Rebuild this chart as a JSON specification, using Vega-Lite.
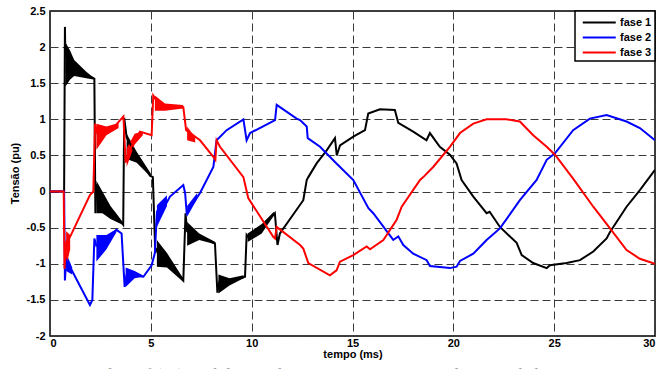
{
  "$schema": "https://vega.github.io/schema/vega-lite/v6.json",
  "width": 605,
  "height": 325,
  "autosize": "none",
  "padding": {"left": 50, "top": 11, "right": 11, "bottom": 33},
  "background": "white",
  "title": {
    "text": "Figura 3: Tensões Vf (pu) medidas no elo com as cargas a 100% da capacidade",
    "orient": "bottom",
    "anchor": "start",
    "dx": 0,
    "offset": 8,
    "font": "Liberation Serif",
    "fontSize": 17,
    "fontWeight": "normal",
    "color": "#9a9a9a"
  },
  "config": {
    "view": {"stroke": "#000000", "strokeWidth": 1.5},
    "axis": {
      "labelFont": "Liberation Sans",
      "labelFontWeight": "bold",
      "labelFontSize": 11,
      "labelColor": "#000000",
      "labelOverlap": false,
      "titleFont": "Liberation Sans",
      "titleFontWeight": "bold",
      "titleFontSize": 11,
      "titleColor": "#000000",
      "domain": false,
      "ticks": false,
      "grid": true,
      "gridColor": "#3a3a3a",
      "gridDash": [8, 4],
      "gridWidth": 1
    },
    "legend": {
      "labelFont": "Liberation Sans",
      "labelFontWeight": "bold",
      "labelFontSize": 11,
      "labelColor": "#000000",
      "titleFont": "Liberation Sans",
      "titleFontSize": 11
    }
  },
  "datasets": {
    "curves": [
      {"fase": "fase 1", "t": 0, "v": 0}, {"fase": "fase 1", "t": 0.7, "v": 0}, {"fase": "fase 1", "t": 0.74, "v": 2.28},
      {"fase": "fase 1", "t": 0.76, "v": 1.9}, {"fase": "fase 1", "t": 1.2, "v": 1.72}, {"fase": "fase 1", "t": 1.8, "v": 1.62},
      {"fase": "fase 1", "t": 2.15, "v": 1.57}, {"fase": "fase 1", "t": 2.2, "v": 1.56}, {"fase": "fase 1", "t": 2.25, "v": -0.3},
      {"fase": "fase 1", "t": 2.3, "v": 0.1}, {"fase": "fase 1", "t": 2.7, "v": -0.15}, {"fase": "fase 1", "t": 3.2, "v": -0.3},
      {"fase": "fase 1", "t": 3.63, "v": -0.46}, {"fase": "fase 1", "t": 3.68, "v": 1.02}, {"fase": "fase 1", "t": 3.8, "v": 0.75},
      {"fase": "fase 1", "t": 4.3, "v": 0.5}, {"fase": "fase 1", "t": 4.96, "v": 0.22}, {"fase": "fase 1", "t": 5.1, "v": 0.2},
      {"fase": "fase 1", "t": 5.22, "v": -0.85}, {"fase": "fase 1", "t": 5.3, "v": -0.8}, {"fase": "fase 1", "t": 5.8, "v": -0.95},
      {"fase": "fase 1", "t": 6.3, "v": -1.12}, {"fase": "fase 1", "t": 6.61, "v": -1.23}, {"fase": "fase 1", "t": 6.72, "v": -0.3},
      {"fase": "fase 1", "t": 6.8, "v": -0.55}, {"fase": "fase 1", "t": 7.4, "v": -0.62}, {"fase": "fase 1", "t": 8.18, "v": -0.72},
      {"fase": "fase 1", "t": 8.3, "v": -1.4}, {"fase": "fase 1", "t": 8.4, "v": -1.25}, {"fase": "fase 1", "t": 8.9, "v": -1.25},
      {"fase": "fase 1", "t": 9.67, "v": -1.18}, {"fase": "fase 1", "t": 9.75, "v": -0.6}, {"fase": "fase 1", "t": 9.9, "v": -0.65},
      {"fase": "fase 1", "t": 10.5, "v": -0.5}, {"fase": "fase 1", "t": 11.15, "v": -0.3}, {"fase": "fase 1", "t": 11.28, "v": -0.74},
      {"fase": "fase 1", "t": 11.4, "v": -0.58}, {"fase": "fase 1", "t": 12.56, "v": -0.12}, {"fase": "fase 1", "t": 12.73, "v": 0.16},
      {"fase": "fase 1", "t": 12.81, "v": 0.2}, {"fase": "fase 1", "t": 13.22, "v": 0.39}, {"fase": "fase 1", "t": 13.72, "v": 0.57},
      {"fase": "fase 1", "t": 14.13, "v": 0.74}, {"fase": "fase 1", "t": 14.22, "v": 0.5}, {"fase": "fase 1", "t": 14.38, "v": 0.64},
      {"fase": "fase 1", "t": 15.04, "v": 0.76}, {"fase": "fase 1", "t": 15.62, "v": 0.85}, {"fase": "fase 1", "t": 15.78, "v": 1.08},
      {"fase": "fase 1", "t": 16.36, "v": 1.14}, {"fase": "fase 1", "t": 17.1, "v": 1.13}, {"fase": "fase 1", "t": 17.27, "v": 0.95},
      {"fase": "fase 1", "t": 18.01, "v": 0.83}, {"fase": "fase 1", "t": 18.67, "v": 0.71}, {"fase": "fase 1", "t": 18.84, "v": 0.81},
      {"fase": "fase 1", "t": 19.33, "v": 0.62}, {"fase": "fase 1", "t": 19.83, "v": 0.51}, {"fase": "fase 1", "t": 20.16, "v": 0.39},
      {"fase": "fase 1", "t": 20.41, "v": 0.16}, {"fase": "fase 1", "t": 20.99, "v": -0.07}, {"fase": "fase 1", "t": 21.65, "v": -0.3},
      {"fase": "fase 1", "t": 21.8, "v": -0.28}, {"fase": "fase 1", "t": 22.31, "v": -0.49}, {"fase": "fase 1", "t": 23.14, "v": -0.71},
      {"fase": "fase 1", "t": 23.39, "v": -0.88}, {"fase": "fase 1", "t": 23.96, "v": -0.99}, {"fase": "fase 1", "t": 24.63, "v": -1.06},
      {"fase": "fase 1", "t": 24.79, "v": -1.02}, {"fase": "fase 1", "t": 25.62, "v": -0.99}, {"fase": "fase 1", "t": 26.28, "v": -0.95},
      {"fase": "fase 1", "t": 26.94, "v": -0.83}, {"fase": "fase 1", "t": 27.6, "v": -0.65}, {"fase": "fase 1", "t": 27.77, "v": -0.56},
      {"fase": "fase 1", "t": 28.59, "v": -0.21}, {"fase": "fase 1", "t": 29.25, "v": 0.02}, {"fase": "fase 1", "t": 30, "v": 0.3},

      {"fase": "fase 2", "t": 0, "v": 0}, {"fase": "fase 2", "t": 0.7, "v": 0}, {"fase": "fase 2", "t": 0.74, "v": -1.23},
      {"fase": "fase 2", "t": 0.8, "v": -0.95}, {"fase": "fase 2", "t": 1.1, "v": -1.1}, {"fase": "fase 2", "t": 1.98, "v": -1.57},
      {"fase": "fase 2", "t": 2.1, "v": -1.5}, {"fase": "fase 2", "t": 2.2, "v": -0.65}, {"fase": "fase 2", "t": 2.3, "v": -0.75},
      {"fase": "fase 2", "t": 2.8, "v": -0.65}, {"fase": "fase 2", "t": 3.3, "v": -0.53}, {"fase": "fase 2", "t": 3.55, "v": -0.58},
      {"fase": "fase 2", "t": 3.7, "v": -1.32}, {"fase": "fase 2", "t": 3.8, "v": -1.15}, {"fase": "fase 2", "t": 4.63, "v": -1.18},
      {"fase": "fase 2", "t": 5.04, "v": -1.02}, {"fase": "fase 2", "t": 5.2, "v": -0.85}, {"fase": "fase 2", "t": 5.3, "v": -0.3},
      {"fase": "fase 2", "t": 5.4, "v": -0.35}, {"fase": "fase 2", "t": 5.95, "v": -0.07}, {"fase": "fase 2", "t": 6.61, "v": 0.09},
      {"fase": "fase 2", "t": 6.7, "v": -0.02}, {"fase": "fase 2", "t": 6.78, "v": -0.3}, {"fase": "fase 2", "t": 7.44, "v": -0.02},
      {"fase": "fase 2", "t": 8.1, "v": 0.34}, {"fase": "fase 2", "t": 8.26, "v": 0.71}, {"fase": "fase 2", "t": 8.76, "v": 0.85},
      {"fase": "fase 2", "t": 9.59, "v": 1.0}, {"fase": "fase 2", "t": 9.75, "v": 0.71}, {"fase": "fase 2", "t": 9.92, "v": 0.81},
      {"fase": "fase 2", "t": 11.16, "v": 0.99}, {"fase": "fase 2", "t": 11.24, "v": 1.2}, {"fase": "fase 2", "t": 12.23, "v": 1.01},
      {"fase": "fase 2", "t": 12.4, "v": 0.99}, {"fase": "fase 2", "t": 12.73, "v": 0.9}, {"fase": "fase 2", "t": 12.78, "v": 0.74},
      {"fase": "fase 2", "t": 13.39, "v": 0.62}, {"fase": "fase 2", "t": 14.13, "v": 0.41}, {"fase": "fase 2", "t": 15.04, "v": 0.16},
      {"fase": "fase 2", "t": 15.79, "v": -0.23}, {"fase": "fase 2", "t": 16.03, "v": -0.3}, {"fase": "fase 2", "t": 17.02, "v": -0.67},
      {"fase": "fase 2", "t": 17.27, "v": -0.62}, {"fase": "fase 2", "t": 17.52, "v": -0.74}, {"fase": "fase 2", "t": 18.01, "v": -0.86},
      {"fase": "fase 2", "t": 18.68, "v": -0.95}, {"fase": "fase 2", "t": 18.84, "v": -1.03}, {"fase": "fase 2", "t": 19.83, "v": -1.06},
      {"fase": "fase 2", "t": 20.16, "v": -1.04}, {"fase": "fase 2", "t": 20.33, "v": -0.96}, {"fase": "fase 2", "t": 20.99, "v": -0.86},
      {"fase": "fase 2", "t": 21.65, "v": -0.67}, {"fase": "fase 2", "t": 22.31, "v": -0.51}, {"fase": "fase 2", "t": 23.3, "v": -0.12},
      {"fase": "fase 2", "t": 24.13, "v": 0.16}, {"fase": "fase 2", "t": 24.63, "v": 0.44}, {"fase": "fase 2", "t": 25.04, "v": 0.53},
      {"fase": "fase 2", "t": 25.94, "v": 0.85}, {"fase": "fase 2", "t": 26.77, "v": 1.01}, {"fase": "fase 2", "t": 27.6, "v": 1.06},
      {"fase": "fase 2", "t": 28.59, "v": 0.97}, {"fase": "fase 2", "t": 29.25, "v": 0.88}, {"fase": "fase 2", "t": 30, "v": 0.71},

      {"fase": "fase 3", "t": 0, "v": 0}, {"fase": "fase 3", "t": 0.68, "v": 0}, {"fase": "fase 3", "t": 0.72, "v": -1.07},
      {"fase": "fase 3", "t": 0.8, "v": -0.7}, {"fase": "fase 3", "t": 0.99, "v": -0.63}, {"fase": "fase 3", "t": 1.98, "v": -0.05},
      {"fase": "fase 3", "t": 2.15, "v": 0}, {"fase": "fase 3", "t": 2.23, "v": 0.94}, {"fase": "fase 3", "t": 2.35, "v": 0.8},
      {"fase": "fase 3", "t": 3.14, "v": 0.88}, {"fase": "fase 3", "t": 3.64, "v": 1.04}, {"fase": "fase 3", "t": 3.75, "v": 0.4},
      {"fase": "fase 3", "t": 3.9, "v": 0.55}, {"fase": "fase 3", "t": 4.46, "v": 0.83}, {"fase": "fase 3", "t": 5.04, "v": 0.78},
      {"fase": "fase 3", "t": 5.12, "v": 1.33}, {"fase": "fase 3", "t": 5.3, "v": 1.25}, {"fase": "fase 3", "t": 5.62, "v": 1.2},
      {"fase": "fase 3", "t": 6.61, "v": 1.17}, {"fase": "fase 3", "t": 6.75, "v": 0.85}, {"fase": "fase 3", "t": 7.44, "v": 0.71},
      {"fase": "fase 3", "t": 8.1, "v": 0.48}, {"fase": "fase 3", "t": 8.2, "v": 0.44}, {"fase": "fase 3", "t": 8.26, "v": 0.71},
      {"fase": "fase 3", "t": 8.43, "v": 0.62}, {"fase": "fase 3", "t": 9.59, "v": 0.2}, {"fase": "fase 3", "t": 9.83, "v": -0.09},
      {"fase": "fase 3", "t": 11.08, "v": -0.63}, {"fase": "fase 3", "t": 11.16, "v": -0.65}, {"fase": "fase 3", "t": 11.24, "v": -0.49},
      {"fase": "fase 3", "t": 12.4, "v": -0.74}, {"fase": "fase 3", "t": 12.56, "v": -0.79}, {"fase": "fase 3", "t": 12.81, "v": -0.99},
      {"fase": "fase 3", "t": 13.88, "v": -1.16}, {"fase": "fase 3", "t": 14.21, "v": -1.09}, {"fase": "fase 3", "t": 14.38, "v": -0.97},
      {"fase": "fase 3", "t": 15.04, "v": -0.88}, {"fase": "fase 3", "t": 15.7, "v": -0.76}, {"fase": "fase 3", "t": 15.87, "v": -0.8},
      {"fase": "fase 3", "t": 16.53, "v": -0.67}, {"fase": "fase 3", "t": 17.19, "v": -0.39}, {"fase": "fase 3", "t": 17.44, "v": -0.21},
      {"fase": "fase 3", "t": 18.35, "v": 0.16}, {"fase": "fase 3", "t": 18.51, "v": 0.2}, {"fase": "fase 3", "t": 19.0, "v": 0.34},
      {"fase": "fase 3", "t": 19.83, "v": 0.62}, {"fase": "fase 3", "t": 20.33, "v": 0.81}, {"fase": "fase 3", "t": 20.99, "v": 0.94},
      {"fase": "fase 3", "t": 21.65, "v": 1.0}, {"fase": "fase 3", "t": 22.64, "v": 1.0}, {"fase": "fase 3", "t": 23.3, "v": 0.97},
      {"fase": "fase 3", "t": 23.96, "v": 0.78}, {"fase": "fase 3", "t": 24.63, "v": 0.62}, {"fase": "fase 3", "t": 25.04, "v": 0.51},
      {"fase": "fase 3", "t": 25.94, "v": 0.18}, {"fase": "fase 3", "t": 26.94, "v": -0.21}, {"fase": "fase 3", "t": 27.77, "v": -0.51},
      {"fase": "fase 3", "t": 28.59, "v": -0.81}, {"fase": "fase 3", "t": 29.25, "v": -0.93}, {"fase": "fase 3", "t": 30, "v": -1.0}
    ],
    "bands": [
      {"fase": "fase 1", "seg": "a1", "t": 0.76, "lo": 1.45, "hi": 2.07}, {"fase": "fase 1", "seg": "a1", "t": 1.0, "lo": 1.55, "hi": 1.95},
      {"fase": "fase 1", "seg": "a1", "t": 1.2, "lo": 1.6, "hi": 1.82}, {"fase": "fase 1", "seg": "a1", "t": 1.8, "lo": 1.57, "hi": 1.66},
      {"fase": "fase 1", "seg": "a1", "t": 2.15, "lo": 1.55, "hi": 1.58},
      {"fase": "fase 1", "seg": "a2", "t": 2.3, "lo": -0.3, "hi": 0.15}, {"fase": "fase 1", "seg": "a2", "t": 2.6, "lo": -0.3, "hi": 0.0},
      {"fase": "fase 1", "seg": "a2", "t": 3.0, "lo": -0.38, "hi": -0.2}, {"fase": "fase 1", "seg": "a2", "t": 3.6, "lo": -0.46, "hi": -0.42},
      {"fase": "fase 1", "seg": "a3", "t": 3.8, "lo": 0.45, "hi": 0.8}, {"fase": "fase 1", "seg": "a3", "t": 4.3, "lo": 0.4, "hi": 0.55},
      {"fase": "fase 1", "seg": "a3", "t": 5.0, "lo": 0.2, "hi": 0.25},
      {"fase": "fase 1", "seg": "a4", "t": 5.3, "lo": -1.04, "hi": -0.67}, {"fase": "fase 1", "seg": "a4", "t": 5.8, "lo": -1.05, "hi": -0.85},
      {"fase": "fase 1", "seg": "a4", "t": 6.6, "lo": -1.25, "hi": -1.2},
      {"fase": "fase 1", "seg": "a5", "t": 6.8, "lo": -0.75, "hi": -0.42}, {"fase": "fase 1", "seg": "a5", "t": 7.4, "lo": -0.67, "hi": -0.58},
      {"fase": "fase 1", "seg": "a5", "t": 8.2, "lo": -0.73, "hi": -0.7},
      {"fase": "fase 1", "seg": "a6", "t": 8.35, "lo": -1.41, "hi": -1.15}, {"fase": "fase 1", "seg": "a6", "t": 8.9, "lo": -1.3, "hi": -1.2},
      {"fase": "fase 1", "seg": "a6", "t": 9.6, "lo": -1.2, "hi": -1.16},
      {"fase": "fase 1", "seg": "a7", "t": 9.8, "lo": -0.7, "hi": -0.58}, {"fase": "fase 1", "seg": "a7", "t": 10.5, "lo": -0.58, "hi": -0.45},
      {"fase": "fase 1", "seg": "a7", "t": 11.1, "lo": -0.33, "hi": -0.28},
      {"fase": "fase 2", "seg": "b1", "t": 0.8, "lo": -1.1, "hi": -0.85}, {"fase": "fase 2", "seg": "b1", "t": 1.1, "lo": -1.15, "hi": -1.05},
      {"fase": "fase 2", "seg": "b2", "t": 2.3, "lo": -0.97, "hi": -0.6}, {"fase": "fase 2", "seg": "b2", "t": 2.8, "lo": -0.8, "hi": -0.6},
      {"fase": "fase 2", "seg": "b2", "t": 3.3, "lo": -0.56, "hi": -0.52},
      {"fase": "fase 2", "seg": "b3", "t": 3.75, "lo": -1.32, "hi": -1.05}, {"fase": "fase 2", "seg": "b3", "t": 4.2, "lo": -1.2, "hi": -1.1},
      {"fase": "fase 2", "seg": "b3", "t": 4.6, "lo": -1.18, "hi": -1.16},
      {"fase": "fase 2", "seg": "b4", "t": 5.3, "lo": -0.49, "hi": -0.19}, {"fase": "fase 2", "seg": "b4", "t": 5.8, "lo": -0.2, "hi": -0.05},
      {"fase": "fase 2", "seg": "b5", "t": 6.8, "lo": -0.35, "hi": -0.2}, {"fase": "fase 2", "seg": "b5", "t": 7.3, "lo": -0.1, "hi": -0.02},
      {"fase": "fase 3", "seg": "c1", "t": 0.8, "lo": -1.04, "hi": -0.55}, {"fase": "fase 3", "seg": "c1", "t": 1.0, "lo": -0.8, "hi": -0.6},
      {"fase": "fase 3", "seg": "c2", "t": 2.3, "lo": 0.58, "hi": 0.94}, {"fase": "fase 3", "seg": "c2", "t": 2.8, "lo": 0.78, "hi": 0.9},
      {"fase": "fase 3", "seg": "c2", "t": 3.4, "lo": 0.88, "hi": 0.95},
      {"fase": "fase 3", "seg": "c3", "t": 3.8, "lo": 0.34, "hi": 0.6}, {"fase": "fase 3", "seg": "c3", "t": 4.2, "lo": 0.65, "hi": 0.8},
      {"fase": "fase 3", "seg": "c3", "t": 4.6, "lo": 0.78, "hi": 0.83},
      {"fase": "fase 3", "seg": "c4", "t": 5.2, "lo": 1.12, "hi": 1.33}, {"fase": "fase 3", "seg": "c4", "t": 5.7, "lo": 1.12, "hi": 1.22},
      {"fase": "fase 3", "seg": "c4", "t": 6.6, "lo": 1.15, "hi": 1.2},
      {"fase": "fase 3", "seg": "c5", "t": 6.8, "lo": 0.71, "hi": 0.9}, {"fase": "fase 3", "seg": "c5", "t": 7.2, "lo": 0.68, "hi": 0.75}
    ]
  },
  "layer": [
    {
      "data": {"name": "bands"},
      "mark": {"type": "area", "opacity": 1, "clip": true},
      "encoding": {
        "x": {
          "field": "t", "type": "quantitative",
          "scale": {"domain": [0, 30], "nice": false, "zero": false},
          "axis": {
            "values": [0, 5, 10, 15, 20, 25, 30],
            "labelPadding": 1,
            "title": "tempo (ms)",
            "titleY": 21,
            "titleBaseline": "alphabetic"
          }
        },
        "y": {
          "field": "lo", "type": "quantitative",
          "scale": {"domain": [-2, 2.5], "nice": false, "zero": false},
          "axis": {
            "values": [-2, -1.5, -1, -0.5, 0, 0.5, 1, 1.5, 2, 2.5],
            "labelExpr": "toString(datum.value)",
            "labelPadding": 5,
            "title": "Tensão (pu)",
            "titleX": -30,
            "titleY": 162
          }
        },
        "y2": {"field": "hi"},
        "color": {
          "field": "fase", "type": "nominal",
          "scale": {"domain": ["fase 1", "fase 2", "fase 3"], "range": ["#000000", "#0000ff", "#ff0000"]},
          "legend": {
            "title": "\u00a0\u00a0\u00a0\u00a0\u00a0",
            "titleOrient": "right",
            "titlePadding": 0,
            "orient": "top-right",
            "offset": 0,
            "fillColor": "white",
            "strokeColor": "#000000",
            "padding": 3,
            "rowPadding": 1,
            "symbolType": "M -0.5 0 L 3.9 0",
            "symbolSize": 225,
            "symbolStrokeWidth": 2,
            "labelOffset": 25,
            "encode": {"legend": {"update": {"strokeWidth": {"value": 1.5}}}}
          }
        },
        "detail": {"field": "seg"}
      }
    },
    {
      "data": {"name": "curves"},
      "mark": {"type": "line", "strokeWidth": 2, "clip": true},
      "encoding": {
        "x": {
          "field": "t", "type": "quantitative",
          "scale": {"domain": [0, 30], "nice": false, "zero": false},
          "axis": {
            "values": [0, 5, 10, 15, 20, 25, 30],
            "labelPadding": 1,
            "title": "tempo (ms)",
            "titleY": 21,
            "titleBaseline": "alphabetic"
          }
        },
        "y": {
          "field": "v", "type": "quantitative",
          "scale": {"domain": [-2, 2.5], "nice": false, "zero": false},
          "axis": {
            "values": [-2, -1.5, -1, -0.5, 0, 0.5, 1, 1.5, 2, 2.5],
            "labelExpr": "toString(datum.value)",
            "labelPadding": 5,
            "title": "Tensão (pu)",
            "titleX": -30,
            "titleY": 162
          }
        },
        "color": {
          "field": "fase", "type": "nominal",
          "scale": {"domain": ["fase 1", "fase 2", "fase 3"], "range": ["#000000", "#0000ff", "#ff0000"]},
          "legend": {
            "title": "\u00a0\u00a0\u00a0\u00a0\u00a0",
            "titleOrient": "right",
            "titlePadding": 0,
            "orient": "top-right",
            "offset": 0,
            "fillColor": "white",
            "strokeColor": "#000000",
            "padding": 3,
            "rowPadding": 1,
            "symbolType": "M -0.5 0 L 3.9 0",
            "symbolSize": 225,
            "symbolStrokeWidth": 2,
            "labelOffset": 25,
            "encode": {"legend": {"update": {"strokeWidth": {"value": 1.5}}}}
          }
        }
      }
    }
  ]
}
